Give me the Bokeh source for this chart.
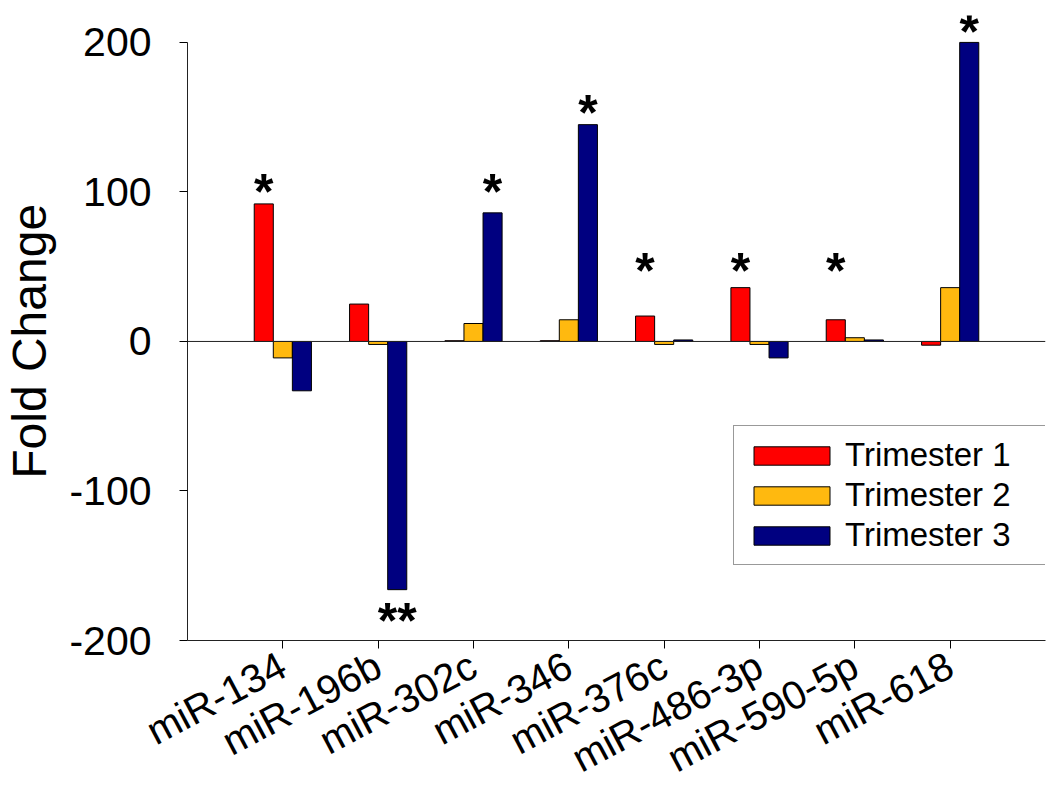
import numpy as np
from bokeh.plotting import figure
from bokeh.models import ColumnDataSource, Range1d, FixedTicker, Span, Legend, LegendItem
from bokeh.transform import dodge
from bokeh.core.properties import value
from bokeh.embed import file_html
from bokeh.resources import INLINE

# ---- data ----
categories = ["miR-134", "miR-196b", "miR-302c", "miR-346",
              "miR-376c", "miR-486-3p", "miR-590-5p", "miR-618"]
trimester1 = [92, 25, 0.5, 0.5, 17, 36, 14.5, -2.5]
trimester2 = [-11, -2, 12, 14.5, -2, -2, 2.5, 36]
trimester3 = [-33, -166, 86, 145, 1, -11, 1, 200]
series_names = ["Trimester 1", "Trimester 2", "Trimester 3"]
series_colors = ["#FF0000", "#FFB90F", "#000080"]

# significance marks: category index, series index, label, y position of mark
sig_cat = [0, 1, 2, 3, 4, 5, 6, 7]
sig_series = [0, 2, 2, 2, 0, 0, 0, 2]
sig_text = ["*", "**", "*", "*", "*", "*", "*", "*"]
sig_y = [100, -187, 100, 153, 47, 47, 47, 207]

y_ticks = [-200, -100, 0, 100, 200]
y_tick_labels = ["-200", "-100", "0", "100", "200"]

FONT = "Liberation Sans"
x = list(range(len(categories)))
offsets = [-0.2, 0.0, 0.2]

p = figure(width=1046, height=804, output_backend="svg", toolbar_location=None,
           x_range=Range1d(-1, 8), y_range=Range1d(-200, 218),
           min_border_left=184, min_border_right=1, min_border_top=15,
           min_border_bottom=164)
p.outline_line_color = None
p.xgrid.visible = False
p.ygrid.visible = False
p.background_fill_color = "white"

items = []
for vals, name, col, off in zip([trimester1, trimester2, trimester3],
                                series_names, series_colors, offsets):
    src = ColumnDataSource(dict(x=x, top=vals))
    r = p.vbar(x=dodge("x", off), top="top", bottom=0, width=0.2, source=src,
               fill_color=col, line_color="black", line_width=1)
    items.append(LegendItem(label=name, renderers=[r]))

p.add_layout(Span(location=0, dimension="width", line_color="#222222", line_width=1))

sx = [c + offsets[s] for c, s in zip(sig_cat, sig_series)]
ssrc = ColumnDataSource(dict(x=sx, y=sig_y, t=sig_text))
p.text(x="x", y="y", text="t", source=ssrc, text_align="center",
       text_baseline="middle", text_font=value(FONT), text_font_size="50px",
       text_font_style="bold", text_color="black")

# axes
p.xaxis.ticker = FixedTicker(ticks=x)
p.xaxis.major_label_overrides = {i: c for i, c in enumerate(categories)}
p.xaxis.major_label_orientation = np.deg2rad(28)
p.xaxis.major_label_text_font = FONT
p.xaxis.major_label_text_font_size = "40px"
p.xaxis.major_label_text_color = "black"
p.xaxis.major_label_standoff = 14
p.xaxis.major_tick_out = 8
p.xaxis.major_tick_in = 0
p.xaxis.minor_tick_line_color = None
p.xaxis.axis_line_color = "#222222"

p.yaxis.ticker = FixedTicker(ticks=y_ticks)
p.yaxis.major_label_overrides = dict(zip(y_ticks, y_tick_labels))
p.yaxis.bounds = (-200, 200)
p.yaxis.major_label_text_font = FONT
p.yaxis.major_label_text_font_size = "41px"
p.yaxis.major_label_text_color = "black"
p.yaxis.major_label_standoff = 28
p.yaxis.major_tick_out = 8
p.yaxis.major_tick_in = 0
p.yaxis.minor_tick_line_color = None
p.yaxis.axis_line_color = "#222222"
p.yaxis.axis_label = "Fold Change\u00a0\u00a0"
p.yaxis.axis_label_text_font = FONT
p.yaxis.axis_label_text_font_size = "48px"
p.yaxis.axis_label_text_font_style = "normal"
p.yaxis.axis_label_text_color = "black"
p.yaxis.axis_label_standoff = 10

legend = Legend(items=items, location=(546, 75), orientation="vertical",
                label_text_font=FONT, label_text_font_size="33px",
                label_text_color="black", glyph_width=95, glyph_height=23,
                label_standoff=6, label_width=192, spacing=2, padding=10, margin=0,
                border_line_color="#333333", border_line_width=1,
                background_fill_color="white", background_fill_alpha=1)
p.add_layout(legend, "center")

open("out.html", "w").write(file_html(p, INLINE))
